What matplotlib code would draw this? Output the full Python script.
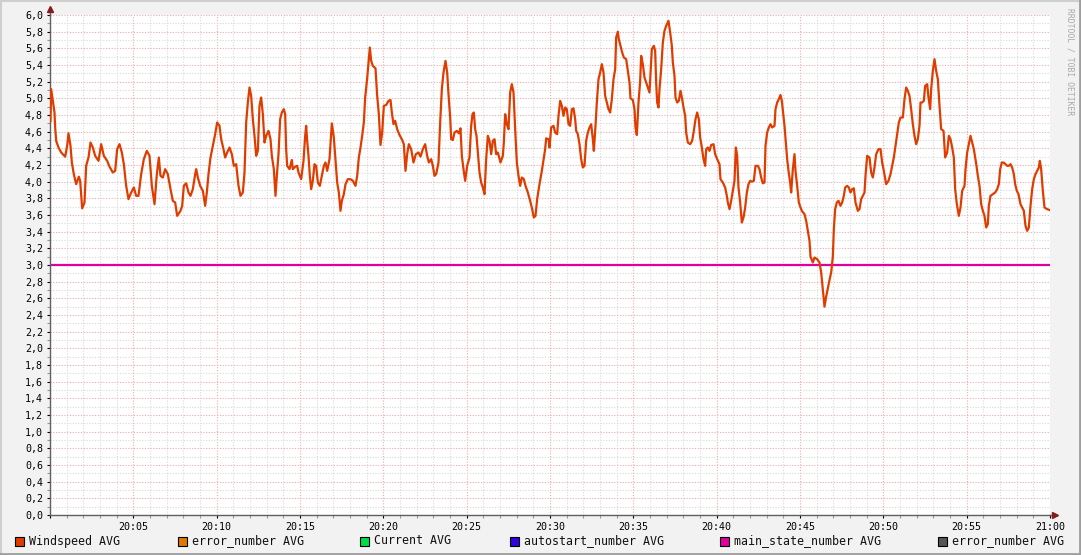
import numpy as np
import matplotlib
matplotlib.use("Agg")
import matplotlib.pyplot as plt
from matplotlib.patches import Rectangle
from matplotlib.ticker import MultipleLocator, FuncFormatter

# minutes after 20:00 and windspeed readings
minutes = [0.03, 0.07, 0.17, 0.27, 0.31, 0.37, 0.51, 0.67, 0.91, 1.03, 1.11, 1.23, 1.31, 1.43, 1.57,
           1.73, 1.81, 1.93, 2.07, 2.17, 2.31, 2.43, 2.57, 2.71, 2.91, 3.07, 3.23, 3.43, 3.57, 3.77,
           3.91, 4.03, 4.17, 4.31, 4.43, 4.57, 4.71, 4.87, 5.03, 5.17, 5.31, 5.47, 5.63, 5.81, 5.97,
           6.11, 6.27, 6.41, 6.53, 6.63, 6.77, 6.91, 7.07, 7.23, 7.37, 7.51, 7.63, 7.83, 7.93, 8.03,
           8.17, 8.31, 8.43, 8.57, 8.71, 8.77, 8.87, 9.01, 9.17, 9.31, 9.41, 9.51, 9.63, 9.77, 9.91,
           10.03, 10.17, 10.27, 10.41, 10.51, 10.63, 10.77, 10.91, 11.03, 11.17, 11.31, 11.43, 11.57,
           11.67, 11.77, 11.87, 11.97, 12.07, 12.17, 12.27, 12.37, 12.47, 12.57, 12.67, 12.77, 12.87,
           12.97, 13.11, 13.23, 13.31, 13.43, 13.53, 13.61, 13.71, 13.81, 13.91, 14.03, 14.11, 14.17,
           14.23, 14.37, 14.51, 14.57, 14.71, 14.83, 14.91, 15.07, 15.21, 15.31, 15.37, 15.43, 15.51,
           15.59, 15.67, 15.77, 15.87, 15.97, 16.07, 16.19, 16.31, 16.43, 16.53, 16.63, 16.77, 16.91,
           17.03, 17.11, 17.23, 17.33, 17.43, 17.51, 17.63, 17.73, 17.87, 18.03, 18.17, 18.33, 18.43,
           18.53, 18.63, 18.73, 18.83, 18.91, 19.03, 19.13, 19.19, 19.27, 19.37, 19.53, 19.63, 19.73,
           19.83, 19.93, 20.03, 20.17, 20.31, 20.43, 20.51, 20.61, 20.71, 20.83, 20.97, 21.11, 21.23,
           21.33, 21.43, 21.53, 21.67, 21.81, 21.95, 22.11, 22.23, 22.37, 22.51, 22.63, 22.73, 22.87,
           22.97, 23.07, 23.17, 23.31, 23.41, 23.51, 23.61, 23.73, 23.83, 23.91, 24.01, 24.07, 24.17,
           24.27, 24.41, 24.53, 24.63, 24.71, 24.81, 24.91, 25.03, 25.17, 25.27, 25.35, 25.43, 25.51,
           25.59, 25.67, 25.77, 25.87, 25.97, 26.07, 26.17, 26.27, 26.37, 26.47, 26.57, 26.67, 26.77,
           26.87, 27.03, 27.17, 27.23, 27.31, 27.41, 27.51, 27.61, 27.71, 27.81, 27.91, 28.01, 28.11,
           28.21, 28.31, 28.43, 28.53, 28.67, 28.81, 28.93, 29.03, 29.13, 29.23, 29.37, 29.51, 29.63,
           29.71, 29.77, 29.91, 29.97, 30.07, 30.21, 30.31, 30.43, 30.51, 30.61, 30.71, 30.81, 30.91,
           31.01, 31.11, 31.21, 31.31, 31.41, 31.51, 31.57, 31.67, 31.77, 31.87, 31.97, 32.07, 32.17,
           32.27, 32.37, 32.47, 32.57, 32.63, 32.73, 32.81, 32.91, 33.01, 33.11, 33.21, 33.31, 33.41,
           33.51, 33.61, 33.71, 33.81, 33.91, 33.97, 34.07, 34.13, 34.23, 34.33, 34.43, 34.57, 34.67,
           34.77, 34.83, 34.97, 35.07, 35.13, 35.21, 35.31, 35.41, 35.47, 35.57, 35.67, 35.77, 35.87,
           35.97, 36.03, 36.11, 36.23, 36.31, 36.37, 36.43, 36.51, 36.57, 36.67, 36.77, 36.87, 36.97,
           37.11, 37.21, 37.31, 37.37, 37.47, 37.53, 37.63, 37.73, 37.83, 37.93, 38.03, 38.11, 38.17,
           38.27, 38.41, 38.53, 38.63, 38.73, 38.83, 38.93, 39.01, 39.11, 39.21, 39.31, 39.37, 39.47,
           39.57, 39.67, 39.81, 39.91, 40.03, 40.17, 40.23, 40.37, 40.51, 40.61, 40.67, 40.77, 40.87,
           40.97, 41.07, 41.15, 41.23, 41.31, 41.41, 41.51, 41.61, 41.71, 41.81, 41.91, 42.01, 42.11,
           42.23, 42.33, 42.47, 42.57, 42.67, 42.77, 42.87, 42.93, 43.03, 43.13, 43.23, 43.33, 43.47,
           43.53, 43.63, 43.73, 43.83, 43.91, 44.01, 44.07, 44.17, 44.23, 44.31, 44.41, 44.47, 44.57,
           44.67, 44.73, 44.83, 44.93, 45.03, 45.11, 45.27, 45.37, 45.47, 45.57, 45.63, 45.77, 45.87,
           46.03, 46.17, 46.27, 46.37, 46.47, 46.57, 46.67, 46.77, 46.87, 46.97, 47.03, 47.11, 47.21,
           47.31, 47.43, 47.53, 47.63, 47.71, 47.83, 47.93, 48.03, 48.13, 48.23, 48.33, 48.47, 48.57,
           48.67, 48.77, 48.87, 48.93, 49.03, 49.17, 49.27, 49.37, 49.47, 49.57, 49.71, 49.83, 49.93,
           50.03, 50.17, 50.31, 50.43, 50.53, 50.63, 50.73, 50.83, 50.93, 51.03, 51.17, 51.27, 51.37,
           51.47, 51.57, 51.67, 51.77, 51.87, 51.97, 52.07, 52.17, 52.23, 52.33, 52.43, 52.51, 52.63,
           52.71, 52.81, 52.87, 52.97, 53.07, 53.17, 53.27, 53.37, 53.47, 53.61, 53.71, 53.83, 53.93,
           54.03, 54.13, 54.23, 54.31, 54.41, 54.53, 54.63, 54.73, 54.87, 54.93, 55.03, 55.13, 55.23,
           55.33, 55.43, 55.51, 55.59, 55.67, 55.77, 55.87, 55.97, 56.07, 56.17, 56.27, 56.33, 56.43,
           56.57, 56.71, 56.83, 56.93, 57.01, 57.11, 57.21, 57.33, 57.43, 57.53, 57.63, 57.73, 57.83,
           57.91, 58.01, 58.11, 58.23, 58.33, 58.43, 58.53, 58.63, 58.73, 58.83, 58.93, 59.03, 59.13,
           59.23, 59.33, 59.39, 59.47, 59.57, 59.67, 59.83, 59.97]

windspeed = [4.73, 5.11, 4.97, 4.83, 4.65, 4.49, 4.41, 4.35, 4.30, 4.43, 4.58, 4.43, 4.23, 4.09, 3.97,
             4.06, 4.01, 3.68, 3.75, 4.19, 4.29, 4.47, 4.41, 4.31, 4.25, 4.45, 4.31, 4.25, 4.18, 4.11,
             4.13, 4.39, 4.45, 4.35, 4.21, 3.95, 3.79, 3.87, 3.93, 3.83, 3.83, 4.09, 4.27, 4.37, 4.31,
             3.95, 3.73, 4.09, 4.29, 4.07, 4.05, 4.15, 4.09, 3.91, 3.77, 3.75, 3.59, 3.65, 3.71, 3.95,
             3.98, 3.87, 3.83, 3.91, 4.09, 4.15, 4.05, 3.95, 3.89, 3.71, 3.87, 4.09, 4.29, 4.43, 4.57,
             4.71, 4.67, 4.51, 4.39, 4.29, 4.35, 4.41, 4.33, 4.19, 4.21, 3.95, 3.83, 3.87,
             4.11, 4.71, 4.95, 5.13, 5.03, 4.75, 4.55, 4.31, 4.37, 4.91, 5.01, 4.81, 4.47,
             4.55, 4.61, 4.51, 4.31, 4.15, 3.83, 4.07, 4.33, 4.75, 4.83, 4.87, 4.81, 4.39,
             4.19, 4.15, 4.26, 4.15, 4.18, 4.19, 4.11, 4.03, 4.25, 4.55, 4.67, 4.49, 4.31,
             4.07, 3.91, 4.01, 4.21, 4.19, 3.99, 3.95, 4.07, 4.19, 4.23, 4.13, 4.27, 4.70,
             4.53, 4.31, 3.99, 3.87, 3.65, 3.77, 3.85, 3.97, 4.03, 4.03, 4.01, 3.95, 4.07,
             4.29, 4.41, 4.55, 4.71, 5.01, 5.24, 5.47, 5.61, 5.45, 5.39, 5.36, 5.03, 4.81,
             4.44, 4.59, 4.91, 4.92, 4.97, 4.98, 4.83, 4.69, 4.73, 4.63, 4.56, 4.51, 4.45,
             4.13, 4.33, 4.45, 4.39, 4.23, 4.33, 4.35, 4.30, 4.39, 4.45, 4.31, 4.23, 4.27,
             4.19, 4.07, 4.09, 4.23, 4.71, 5.11, 5.31, 5.45, 5.31, 5.05, 4.77, 4.51, 4.50,
             4.59, 4.61, 4.58, 4.64, 4.31, 4.15, 4.01, 4.19, 4.29, 4.67, 4.81, 4.83, 4.63,
             4.55, 4.35, 4.11, 3.99, 3.93, 3.85, 4.27, 4.55, 4.49, 4.33, 4.49, 4.51, 4.33,
             4.35, 4.23, 4.31, 4.47, 4.81, 4.69, 4.63, 5.07, 5.17, 5.07, 4.63, 4.23, 4.07,
             3.95, 4.05, 4.03, 3.95, 3.87, 3.77, 3.67, 3.57, 3.59, 3.79, 3.97, 4.13, 4.29,
             4.39, 4.52, 4.51, 4.41, 4.65, 4.67, 4.59, 4.57, 4.79, 4.97, 4.91, 4.79, 4.89,
             4.87, 4.69, 4.67, 4.87, 4.88, 4.75, 4.61, 4.57, 4.45, 4.27, 4.17, 4.19, 4.49,
             4.59, 4.65, 4.69, 4.51, 4.37, 4.67, 4.95, 5.23, 5.31, 5.41, 5.31, 5.03, 4.95,
             4.87, 4.83, 4.99, 5.23, 5.35, 5.73, 5.80, 5.71, 5.63, 5.55, 5.49, 5.47, 5.33,
             5.19, 5.00, 4.98, 4.87, 4.65, 4.56, 4.95, 5.21, 5.51, 5.41, 5.25, 5.19, 5.13,
             5.07, 5.29, 5.59, 5.63, 5.57, 5.19, 4.95, 4.89, 5.11, 5.35, 5.67, 5.81, 5.87,
             5.93, 5.79, 5.63, 5.43, 5.27, 5.01, 4.95, 4.97, 5.09, 4.99, 4.87, 4.79, 4.59,
             4.47, 4.45, 4.49, 4.61, 4.75, 4.83, 4.75, 4.53, 4.41, 4.27, 4.19, 4.39, 4.41,
             4.37, 4.44, 4.45, 4.33, 4.27, 4.21, 4.03, 3.99, 3.93, 3.83, 3.75, 3.67, 3.77,
             3.89, 4.01, 4.41, 4.31, 3.93, 3.75, 3.51, 3.57, 3.69, 3.87, 3.97, 4.01, 4.00,
             4.01, 4.19, 4.19, 4.15, 4.05, 3.98, 3.99, 4.43, 4.59, 4.65, 4.69, 4.65, 4.67,
             4.87, 4.95, 4.99, 5.04, 4.97, 4.79, 4.67, 4.43, 4.27, 4.13, 3.99, 3.87, 4.15,
             4.33, 4.13, 3.95, 3.75, 3.69, 3.65, 3.61, 3.53, 3.41, 3.29, 3.10, 3.03, 3.09,
             3.07, 3.03, 2.91, 2.70, 2.50, 2.62, 2.72, 2.82, 2.91, 3.10, 3.43, 3.67, 3.75,
             3.77, 3.71, 3.75, 3.83, 3.93, 3.95, 3.93, 3.87, 3.91, 3.92, 3.75, 3.65, 3.67,
             3.79, 3.83, 3.87, 4.07, 4.31, 4.29, 4.11, 4.05, 4.17, 4.33, 4.39, 4.39, 4.23,
             4.13, 3.97, 4.01, 4.09, 4.19, 4.29, 4.43, 4.57, 4.71, 4.77, 4.77, 4.99, 5.13,
             5.09, 5.03, 4.87, 4.69, 4.55, 4.45, 4.51, 4.67, 4.95, 4.95, 4.97, 5.15, 5.17,
             5.01, 4.87, 5.11, 5.33, 5.47, 5.33, 5.23, 4.91, 4.63, 4.61, 4.29, 4.35, 4.55,
             4.51, 4.41, 4.29, 3.91, 3.73, 3.59, 3.69, 3.89, 3.95, 4.15, 4.35, 4.45, 4.55,
             4.47, 4.39, 4.29, 4.19, 4.07, 3.95, 3.73, 3.65, 3.59, 3.45, 3.49, 3.71, 3.83,
             3.85, 3.87, 3.91, 3.97, 4.15, 4.23, 4.23, 4.21, 4.19, 4.19, 4.21, 4.17, 4.09,
             3.97, 3.89, 3.85, 3.73, 3.69, 3.65, 3.47, 3.41, 3.45, 3.71, 3.91, 4.03, 4.09,
             4.13, 4.17, 4.25, 4.15, 3.89, 3.69, 3.67, 3.66]

state_minutes = [0, 60]
main_state = [3.0, 3.0]

legend_labels = ["Windspeed AVG", "error_number AVG", "Current AVG",
                 "autostart_number AVG", "main_state_number AVG", "error_number AVG"]
legend_colors = ["#E03C00", "#E07800", "#00E040", "#3300E0", "#E000A0", "#555555"]

W, H = 1081, 555
fig = plt.figure(figsize=(W / 100, H / 100), dpi=100, facecolor="#F2F2F2")

def fx(px):
    return px / W

def fy(py):
    return 1 - py / H

ax = fig.add_axes([fx(50), fy(515), (1050 - 50) / W, (515 - 15) / H])
ax.set_facecolor("white")

ax.plot(minutes, windspeed, color=legend_colors[0], lw=1.6, zorder=3)
ax.plot(state_minutes, main_state, color=legend_colors[4], lw=1.6, zorder=2)

ax.set_xlim(0, 60)
ax.set_ylim(0, 6)
ax.xaxis.set_major_locator(MultipleLocator(5))
ax.xaxis.set_minor_locator(MultipleLocator(1))
ax.yaxis.set_major_locator(MultipleLocator(0.2))
ax.yaxis.set_minor_locator(MultipleLocator(0.1))


def tfmt(v, pos):
    if v < 1:
        return ""
    m = int(round(v))
    return "%d:%02d" % (20 + m // 60, m % 60)


ax.xaxis.set_major_formatter(FuncFormatter(tfmt))
ax.yaxis.set_major_formatter(FuncFormatter(lambda v, p: ("%.1f" % v).replace(".", ",")))

ax.grid(which="minor", color="#D9D9D9", ls=(0, (1, 1.5)), lw=0.8)
ax.grid(which="major", color="#F2AAAA", ls=(0, (1, 1.5)), lw=0.8)
ax.set_axisbelow(True)

for s in ["top", "right"]:
    ax.spines[s].set_visible(False)
for s in ["left", "bottom"]:
    ax.spines[s].set_color("#606060")
    ax.spines[s].set_linewidth(1.0)

ax.tick_params(which="both", length=2, width=0.8, color="#999999", direction="out")
ax.tick_params(axis="both", labelsize=7.2, colors="#000000", pad=3)
ax.tick_params(axis="x", which="major", length=2)
for lab in ax.get_xticklabels() + ax.get_yticklabels():
    lab.set_family("DejaVu Sans Mono")

# axis extensions with arrows
ax.plot([0, 0], [1, 1.012], color="#606060", lw=1.0, transform=ax.transAxes, clip_on=False)
ax.plot([1, 1.005], [0, 0], color="#606060", lw=1.0, transform=ax.transAxes, clip_on=False)
ax.plot([0], [1.012], marker="^", ms=4.5, color="#8B1A1A", transform=ax.transAxes, clip_on=False)
ax.plot([1.005], [0], marker=">", ms=4.5, color="#8B1A1A", transform=ax.transAxes, clip_on=False)

# legend row
legend_x = [15, 178, 360, 510, 720, 938]
for x0, lab, col in zip(legend_x, legend_labels, legend_colors):
    fig.add_artist(Rectangle((fx(x0), fy(545.5)), 9 / W, 9 / H, transform=fig.transFigure,
                             facecolor=col, edgecolor="black", lw=0.8))
    fig.text(fx(x0 + 14), fy(541), lab, family="DejaVu Sans Mono", fontsize=8.4,
             va="center", ha="left", color="#111111")

# watermark
fig.text(fx(1070), fy(8), "RRDTOOL / TOBI OETIKER", rotation=270, fontsize=5.8,
         family="DejaVu Sans Mono", color="#A8A8A8", va="top", ha="center")

# outer frame shading
fig.add_artist(plt.Line2D([0, 1], [fy(0.5), fy(0.5)], color="#CFCFCF", lw=1.5, transform=fig.transFigure))
fig.add_artist(plt.Line2D([fx(0.5), fx(0.5)], [0, 1], color="#CFCFCF", lw=1.5, transform=fig.transFigure))
fig.add_artist(plt.Line2D([0, 1], [fy(554), fy(554)], color="#9E9E9E", lw=2, transform=fig.transFigure))
fig.add_artist(plt.Line2D([fx(1080), fx(1080)], [0, 1], color="#9E9E9E", lw=2, transform=fig.transFigure))

fig.savefig("out.png", dpi=100, facecolor=fig.get_facecolor())
